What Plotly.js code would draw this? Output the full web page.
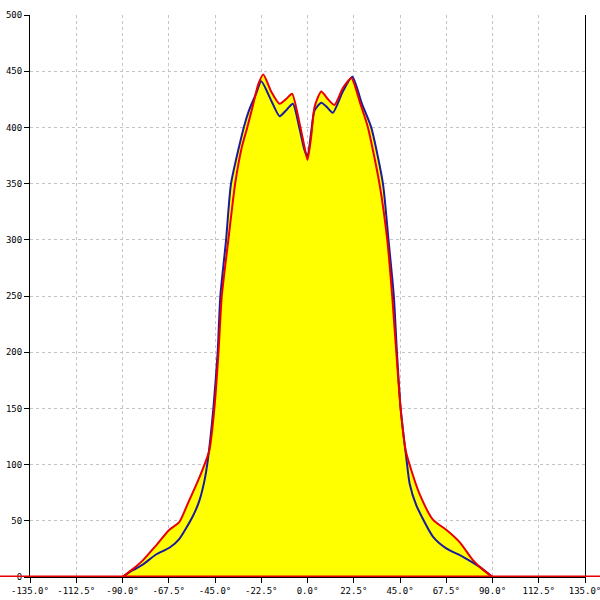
<!DOCTYPE html>
<html>
<head>
<meta charset="utf-8">
<script src="https://cdn.plot.ly/plotly-3.0.1.min.js"></script>
<style>html,body{margin:0;padding:0;background:#fff}#chart{width:600px;height:600px}</style>
</head>
<body>
<div id="chart"></div>
<script>
const redAngles = [-90,-85,-80,-73.7,-67.2,-62.3,-58.3,-53.4,-49.3,-47.7,-45.3,-43.3,-41.7,-38.5,-35.2,-32,-29.3,-26.5,-24,-21.5,-17.7,-13.6,-10,-7.5,-3.9,-1.5,0,1.8,3.4,6.7,10,13.1,17.2,21.3,25.7,29.4,35,38.8,41.2,43.2,45.3,47.7,50.5,54.5,61,67.5,74,80.5,85,90];
const redValues = [0,7,15,28,42,49,65,85,104,113,150,200,250,300,350,382,400,420,438,447,432,421,426,430,404,383,371,392,418,432,425,420,435,444,421,400,350,300,250,200,150,113,95,74,51,42,31,15,7,0];
const blueAngles = [-90,-85,-80.2,-73.7,-67.2,-62.3,-55.8,-52.6,-50.1,-48.5,-45.8,-43.7,-42.4,-39.6,-37.2,-31,-28.5,-25,-22.5,-17.7,-13.6,-10,-7.1,-3.9,-1.5,0,1.8,3.4,6.7,9.5,12.3,17.2,21.8,26.5,31,36.7,39.4,42,43.5,45.3,48,49.7,52.9,61,67.5,75.6,83.7,90];
const blueValues = [0,6,11,20,26,34,54,68,86,104,150,200,250,300,350,400,415,430,441,424,410,416,421,399,380,374,396,415,422,418,413,432,445,421,400,350,300,250,200,150,107,83,64,36,25.5,18,9,0];
const xTicks = [-135,-112.5,-90,-67.5,-45,-22.5,0,22.5,45,67.5,90,112.5,135];
const yTicks = [0,50,100,150,200,250,300,350,400,450,500];

const sm = 0.6;
const traces = [
  {x: blueAngles, y: blueValues, mode: 'lines', fill: 'tozeroy', fillcolor: '#ffff00', line: {width: 0, shape: 'spline', smoothing: sm}, hoverinfo: 'skip'},
  {x: redAngles, y: redValues, mode: 'lines', fill: 'tozeroy', fillcolor: '#ffff00', line: {width: 0, shape: 'spline', smoothing: sm}, hoverinfo: 'skip'},
  {x: blueAngles, y: blueValues, mode: 'lines', line: {color: '#1a1aa0', width: 2, shape: 'spline', smoothing: sm}},
  {x: redAngles, y: redValues, mode: 'lines', line: {color: '#e80000', width: 2, shape: 'spline', smoothing: sm}}
];

const tickFont = {family: 'DejaVu Sans Mono, monospace', size: 9, color: '#000'};
const layout = {
  width: 600, height: 600,
  margin: {l: 30, r: 15, t: 15, b: 23, pad: 0},
  paper_bgcolor: '#fff', plot_bgcolor: '#fff',
  showlegend: false,
  xaxis: {
    range: [-135, 135], tickvals: xTicks, ticktext: xTicks.map(v => v.toFixed(1) + '°'),
    showgrid: true, gridcolor: '#c4c4c4', griddash: '3px,3px', gridwidth: 1,
    zeroline: false, showline: true, linecolor: '#000', linewidth: 1,
    ticks: 'outside', ticklen: 5, tickcolor: '#000', tickfont: tickFont,
    ticklabeloverflow: 'allow'
  },
  yaxis: {
    range: [0, 500], tickvals: yTicks, ticktext: yTicks.map(String),
    showgrid: true, gridcolor: '#c4c4c4', griddash: '3px,3px', gridwidth: 1,
    zeroline: false, showline: true, mirror: true, linecolor: '#000', linewidth: 1,
    ticks: 'outside', ticklen: 5, tickcolor: '#000', tickfont: tickFont,
    ticklabeloverflow: 'allow'
  },
  shapes: [
    {type: 'line', xref: 'paper', yref: 'y', x0: -0.06, x1: 1.03, y0: 0, y1: 0, line: {color: '#e80000', width: 3}, layer: 'above'}
  ]
};
Plotly.newPlot('chart', traces, layout, {displayModeBar: false, staticPlot: true});
</script>
</body>
</html>
